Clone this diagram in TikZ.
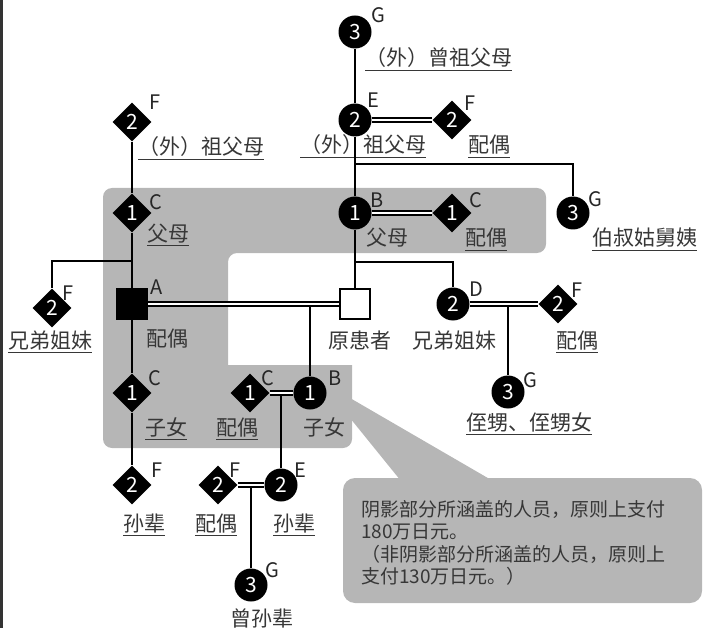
\documentclass[tikz,border=0pt]{standalone}
\usepackage{fontspec}
\setmainfont{Noto Sans CJK SC}
\usepackage{tikz}
\usetikzlibrary{shapes.geometric,positioning}
\definecolor{areagray}{RGB}{182,182,182}
\definecolor{txtgray}{RGB}{55,55,55}
\newcommand{\ulx}[1]{\setbox0=\hbox{#1}\rlap{\rule[-5pt]{\wd0}{1.4pt}}\box0}

\begin{document}
\begin{tikzpicture}[x=1pt,y=-1pt,
pers/.style={fill=black,text=white,inner sep=0pt,font={\fontsize{21pt}{21pt}\selectfont}},
circ/.style={pers,circle,minimum size=33pt},
dmd/.style={pers,diamond,minimum size=39pt},
sqr/.style={draw=black,line width=2.6pt,minimum size=30pt,inner sep=0pt},
ltr/.style={inner sep=0pt,text=black!85,font={\fontsize{20pt}{20pt}\selectfont}},
lbl/.style={inner sep=0pt,anchor=west,text=txtgray,text height=18.5pt,text depth=2.5pt,font={\fontsize{21pt}{24pt}\selectfont}},
tie/.style={line width=2.6pt},
wed/.style={double=white,line width=1.7pt,double distance=2.4pt}
]
\useasboundingbox (0,0) rectangle (706,628);
\draw[line width=3pt,black!80] (1.5,0) -- (1.5,628);

%shaded area and note
\fill[areagray,rounded corners=9pt] (103,188) -- (546,188) -- (546,253) -- (228,253) [sharp corners] -- (228,365) -- (352,365) [rounded corners=9pt] -- (352,448) -- (103,448) -- cycle;
\fill[areagray] (350,398) -- (493,481) -- (401,481) -- (350,418) -- cycle;
\fill[areagray,rounded corners=12pt] (343,478) rectangle (702,603);
\node[anchor=north west,align=left,inner sep=0pt,text=txtgray,font={\fontsize{19pt}{22.5pt}\selectfont}] (memo) at (361,500)
{阴影部分所涵盖的人员，原则上支付\\180万日元。\\（非阴影部分所涵盖的人员，原则上\\支付130万日元。）};

%persons
\node[circ] (ggp) at (355,32) {3};
\node[circ] (gp) at (355,120) {2};
\node[dmd] (gpS) at (452,120) {2};
\node[circ] (par) at (355,213) {1};
\node[dmd] (parS) at (452,213) {1};
\node[circ] (unc) at (573,213) {3};
\node[sqr,fill=white] (pt) at (355,304) {};
\node[circ] (sib) at (453,304) {2};
\node[dmd] (sibS) at (558,304) {2};
\node[circ] (nep) at (508,392) {3};

\node[dmd] (lgp) at (132,122) {2};
\node[dmd] (lpar) at (132,213) {1};
\node[sqr,fill=black] (sp) at (132,304) {};
\node[dmd] (lsib) at (52,308) {2};
\node[dmd] (lch) at (132,393) {1};
\node[dmd] (lgc) at (132,485) {2};

\node[circ] (ch) at (310,393) {1};
\node[dmd] (chS) at (250,393) {1};
\node[circ] (gc) at (281,485) {2};
\node[dmd] (gcS) at (218,485) {2};
\node[circ] (ggc) at (251,585) {3};

%letters
\node[ltr] (ggpL) at (378,15) {G};
\node[ltr] (gpL) at (373,100) {E};
\node[ltr] (gpSL) at (470,103) {F};
\node[ltr] (parL) at (377,200) {B};
\node[ltr] (parSL) at (476,200) {C};
\node[ltr] (uncL) at (595,199) {G};
\node[ltr] (sibL) at (476,289) {D};
\node[ltr] (sibSL) at (577,290) {F};
\node[ltr] (nepL) at (530,380) {G};
\node[ltr] (lgpL) at (155,102) {F};
\node[ltr] (lparL) at (156,202) {C};
\node[ltr] (spL) at (157,287) {A};
\node[ltr] (lsibL) at (68,293) {F};
\node[ltr] (lchL) at (155,378) {C};
\node[ltr] (lgcL) at (157,470) {F};
\node[ltr] (chL) at (335,378) {B};
\node[ltr] (chSL) at (268,378) {C};
\node[ltr] (gcL) at (300,470) {E};
\node[ltr] (gcSL) at (235,470) {F};
\node[ltr] (ggcL) at (272,570) {G};

%names
\node[lbl] (ggpT) at (365,58) {\ulx{（外）曾祖父母}};
\node[lbl] (gpT) at (300,145) {\ulx{（外）祖父母}};
\node[lbl] (gpST) at (468,145) {\ulx{配偶}};
\node[lbl] (parT) at (366,238) {父母};
\node[lbl] (parST) at (465,238) {\ulx{配偶}};
\node[lbl] (uncT) at (592,238) {\ulx{伯叔姑舅姨}};
\node[lbl] (ptT) at (328,340) {原患者};
\node[lbl] (sibT) at (412,340) {兄弟姐妹};
\node[lbl] (sibST) at (556,340) {\ulx{配偶}};
\node[lbl] (nepT) at (466,422) {\ulx{侄甥、侄甥女}};
\node[lbl] (lgpT) at (138,147) {\ulx{（外）祖父母}};
\node[lbl] (lparT) at (147,233) {\ulx{父母}};
\node[lbl] (spT) at (146,338) {配偶};
\node[lbl] (lsibT) at (8,340) {\ulx{兄弟姐妹}};
\node[lbl] (lchT) at (145,427) {\ulx{子女}};
\node[lbl] (chST) at (216,427) {\ulx{配偶}};
\node[lbl] (chT) at (303,427) {子女};
\node[lbl] (lgcT) at (123,523) {\ulx{孙辈}};
\node[lbl] (gcST) at (195,523) {\ulx{配偶}};
\node[lbl] (gcT) at (273,523) {\ulx{孙辈}};
\node[lbl] (ggcT) at (230,618) {\ulx{曾孙辈}};

%lines
\coordinate (j1) at (355,164);
\coordinate (j2) at (355,262);
\coordinate (j3) at (310,306);
\coordinate (j4) at (508,306);
\coordinate (j5) at (132,261);
\coordinate (j6) at (281,395);
\coordinate (j7) at (251,487);

\draw[tie] (ggp) -- (gp);
\draw[tie] (gp) -- (par);
\draw[tie] (par) -- (pt);
\draw[tie] (j1) -| (unc);
\draw[tie] (j2) -| (sib);
\draw[tie] (j3) -- (ch);
\draw[tie] (j4) -- (nep);
\draw[tie] (lgp) -- (lpar);
\draw[tie] (lpar) -- (sp);
\draw[tie] (sp) -- (lch);
\draw[tie] (lch) -- (lgc);
\draw[tie] (j5) -| (lsib);
\draw[tie] (j6) -- (gc);
\draw[tie] (j7) -- (ggc);

\draw[wed] (gp) -- (gpS);
\draw[wed] (par) -- (parS);
\draw[wed] (sp) -- (pt);
\draw[wed] (sib) -- (sibS);
\draw[wed] (chS) -- (ch);
\draw[wed] (gcS) -- (gc);

\end{tikzpicture}
\end{document}
